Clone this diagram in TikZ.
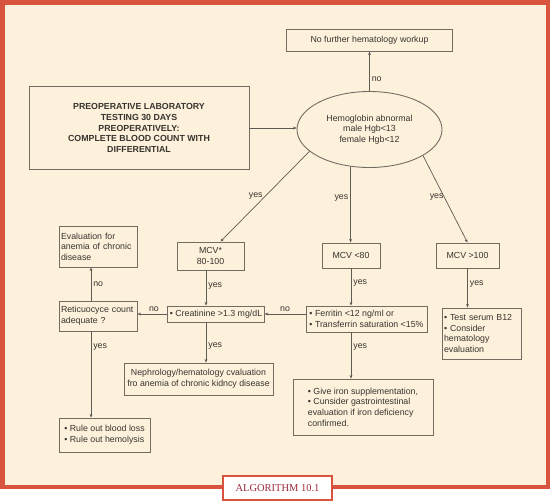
\documentclass[tikz,border=0pt]{standalone}
\usepackage{fontspec}
\setmainfont{Liberation Sans}
\newfontfamily\algfont{Liberation Serif}
\usepackage{tikz}
\usepackage{xcolor}
\usetikzlibrary{arrows.meta, shapes.geometric, calc}

\definecolor{cream}{HTML}{FDF1DC}
\definecolor{framered}{HTML}{D8543F}
\definecolor{boxgray}{HTML}{726C61}
\definecolor{linegray}{HTML}{5E5A54}
\definecolor{inkgray}{HTML}{37332E}
\definecolor{algored}{HTML}{9E2B3A}

\tikzset{
    box/.style={draw=boxgray, line width=0.9pt, text=inkgray, inner sep=2pt, font=\fontsize{8.8}{10.6}\selectfont},
    lbl/.style={text=inkgray, inner sep=2pt, font=\fontsize{8.8}{10.6}\selectfont},
    flow/.style={draw=linegray, line width=0.7pt},
    >={Stealth[length=3.6pt, width=2.8pt]}
}

\begin{document}
\begin{tikzpicture}[x=1pt, y=-1pt]
                    \useasboundingbox (0, 0) rectangle (550, 501);
                    \fill[white] (0, 0) rectangle (550, 501);
                    \fill[cream] (0, 0) rectangle (550, 489);
                    \draw[framered, line width=4.5pt] (2.25, 2.25) rectangle (547.75, 486.75);
                    \node[draw=framered, line width=2pt, fill=white, minimum width=109pt, minimum height=24pt, text=algored, font=\algfont\fontsize{10.5}{12}\selectfont] (algo) at (277.5, 488) {ALGORITHM 10.1};

                    % top of the chart
                    \node[box, minimum width=166pt, minimum height=22pt] (nofurther) at (369.5, 40) {No further hematology workup};
                    \node[box, minimum width=220pt, minimum height=83pt, align=center, font=\bfseries\fontsize{8.8}{10.6}\selectfont] (preop) at (139, 128) {PREOPERATIVE LABORATORY\\TESTING 30 DAYS\\PREOPERATIVELY:\\COMPLETE BLOOD COUNT WITH\\DIFFERENTIAL};
                    \node[box, ellipse, minimum width=145pt, minimum height=76pt, inner sep=0pt, align=center] (hgb) at (369.5, 129.5) {Hemoglobin abnormal\\male Hgb<13\\female Hgb<12};

                    % MCV row
                    \node[box, minimum width=67pt, minimum height=28pt, align=center] (mcvn) at (210.5, 256) {MCV*\\80-100};
                    \node[box, minimum width=58pt, minimum height=25pt] (mcvlow) at (351, 255.5) {MCV <80};
                    \node[box, minimum width=63pt, minimum height=25pt] (mcvhigh) at (467.5, 255.5) {MCV >100};
                    \node[box, text width=74pt, minimum height=41pt, align=left] (chronic) at (98, 246.5) {Evaluation for\\anemia of chronic\\disease};

                    % tests
                    \node[box, text width=74pt, minimum height=30pt, align=left] (reti) at (98, 316) {Reticuocyce count\\adequate ?};
                    \node[box, minimum width=96pt, minimum height=16pt] (creat) at (216, 314) {\textbullet\ Creatinine >1.3 mg/dL};
                    \node[box, minimum width=121pt, minimum height=26pt, align=left] (ferritin) at (366.5, 319) {\textbullet\ Ferritin <12 ng/ml or\\\textbullet\ Transferrin saturation <15\%};
                    \node[box, text width=75pt, minimum height=51pt, align=left] (b12) at (481.5, 333.5) {\textbullet\ Test serum B12\\\textbullet\ Consider\\hematology\\evaluation};

                    % outcomes
                    \node[box, minimum width=149pt, minimum height=32pt, align=center] (nephro) at (198.5, 379) {Nephrology/hematology cvaluation\\fro anemia of chronic kidncy disease};
                    \node[box, minimum width=140pt, minimum height=56pt, align=left] (iron) at (363, 407) {\textbullet\ Give iron supplementation,\\\textbullet\ Cunsider gastrointestinal\\evaluation if iron deficiency\\confirmed.};
                    \node[box, minimum width=91pt, minimum height=34pt, align=left] (ruleout) at (104.5, 435) {\textbullet\ Rule out blood loss\\\textbullet\ Rule out hemolysis};

                    \coordinate (cola) at (91, 0);
                    \coordinate (colc) at (206, 0);

                    \draw[flow]
                    (preop.east) edge[->] (preop.east -| hgb.west)
                    (hgb.north) edge[->] node[lbl, pos=0.31, right] (nonf) {no} (nofurther.south)
                    (hgb.200) edge[->] node[lbl, pos=0.5, left] (yesn) {yes} ([xshift=10pt]mcvn.north)
                    (hgb.243) edge[->] node[lbl, pos=0.42, left] (yesl) {yes} (hgb.243 |- mcvlow.north)
                    (hgb.334) edge[->] node[lbl, pos=0.48, left, inner sep=0.5pt] (yesh) {yes} (mcvhigh.north)
                    (mcvn.south -| colc) edge[->] node[lbl, pos=0.44, right] (yescr) {yes} (creat.north -| colc)
                    (mcvlow.south) edge[->] node[lbl, pos=0.39, right] (yesfe) {yes} (mcvlow.south |- ferritin.north)
                    (mcvhigh.south) edge[->] node[lbl, pos=0.4, right] (yesb) {yes} (mcvhigh.south |- b12.north)
                    (creat.east -| ferritin.west) edge[->] node[lbl, pos=0.5, above] (nocr) {no} (creat.east)
                    (creat.west) edge[->] node[lbl, pos=0.45, above] (nore) {no} (creat.west -| reti.east)
                    (reti.north -| cola) edge[->] node[lbl, pos=0.5, right] (noch) {no} (chronic.south -| cola)
                    (reti.south -| cola) edge[->] node[lbl, pos=0.18, right] (yesru) {yes} (ruleout.north -| cola)
                    (creat.south -| colc) edge[->] node[lbl, pos=0.6, right] (yesne) {yes} (nephro.north -| colc)
                    (ferritin.south -| mcvlow.south) edge[->] node[lbl, pos=0.32, right] (yesir) {yes} (iron.north -| mcvlow.south);
                \end{tikzpicture}
\end{document}
